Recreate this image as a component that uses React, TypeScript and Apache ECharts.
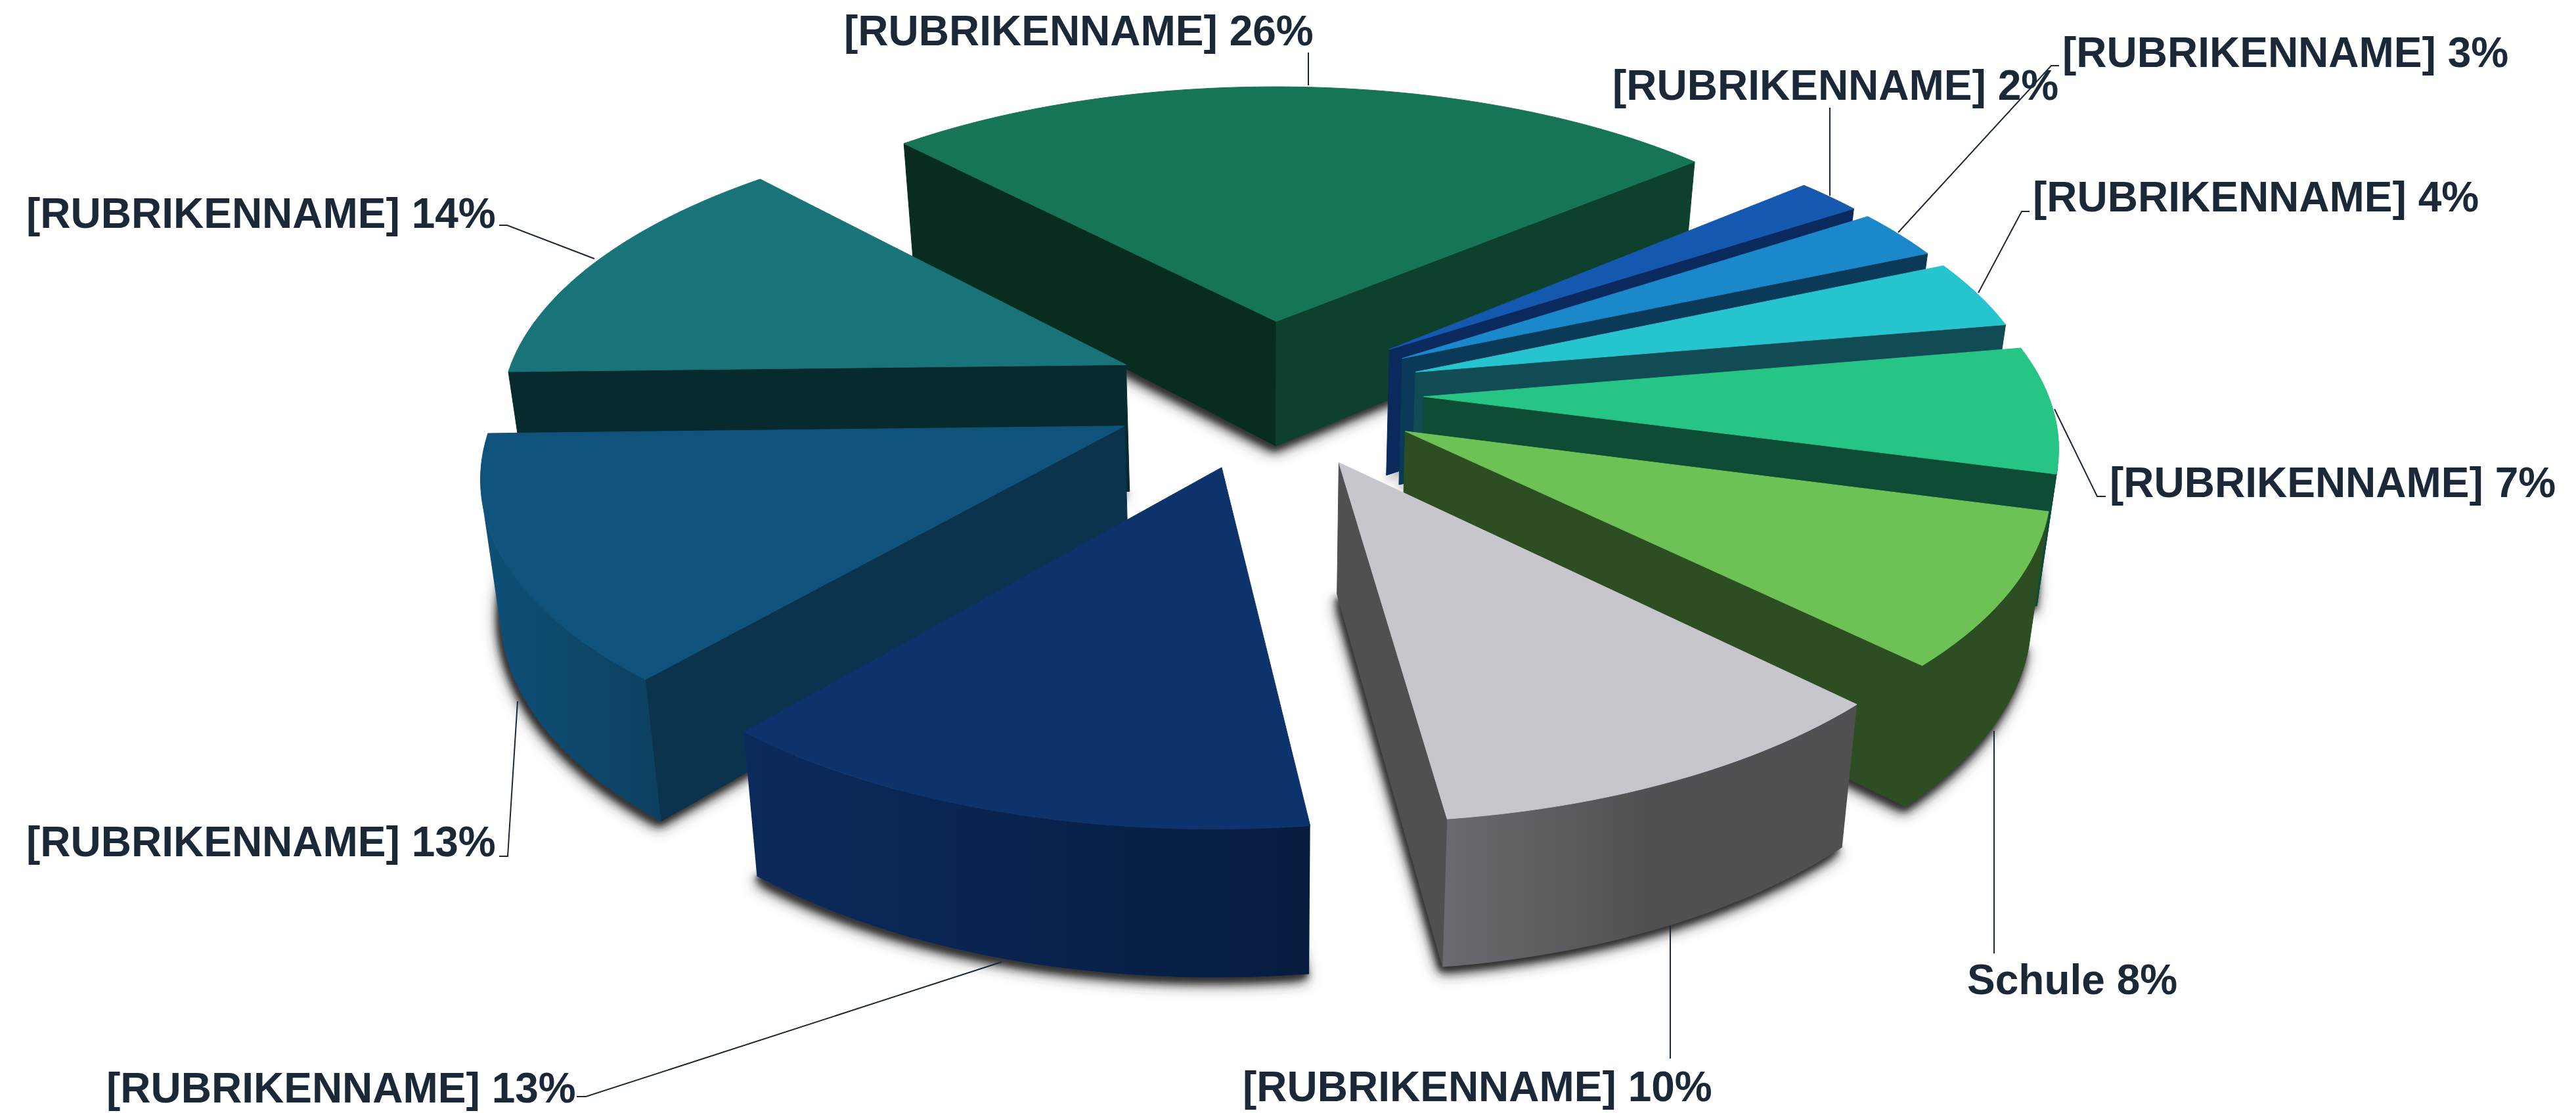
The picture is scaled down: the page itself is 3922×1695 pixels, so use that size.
import React, { useEffect, useRef } from "react";
import * as echarts from "echarts";

const categories = ["[RUBRIKENNAME]", "[RUBRIKENNAME]", "[RUBRIKENNAME]", "[RUBRIKENNAME]", "[RUBRIKENNAME]", "Schule", "[RUBRIKENNAME]", "[RUBRIKENNAME]", "[RUBRIKENNAME]", "[RUBRIKENNAME]"];
// shares as read from the slice edges; the labels show them rounded
const shares = [25.6, 2.0, 2.75, 3.78, 6.94, 8.31, 10.49, 13.25, 13.39, 13.51];

const topColors = ["#167556", "#1558B0", "#1A88CA", "#26C4CF", "#26C485", "#6DC155", "#C7C6CC", "#0C336C", "#0F537C", "#187478"];
const startWallColors = ["#082D1F", "#0A2A5E", "#0A3A58", "#114C55", "#0D4D36", "#2D4E22", "#505052", "#0A2754", "#0B334E", "#062A2E"];
const endWallColors = ["#0D412E", "#0A2A5E", "#0A3A58", "#114C55", "#0D4D36", "#2D4E22", "#505052", "#0A2754", "#0B334E", "#062A2E"];
const outerLeftColors = ["#0D412E", "#0A2A5E", "#0A3A58", "#114C55", "#0D4D36", "#2D4E22", "#6C6A70", "#0B2A5C", "#0E5077", "#0B3A3E"];
const outerRightColors = ["#0D412E", "#0A2A5E", "#0A3A58", "#114C55", "#0D4D36", "#2D4E22", "#505052", "#071C3F", "#0C4060", "#0B3A3E"];
const outerBlendEnd = [1, 1, 1, 1, 1, 1, 0.5, 1, 1, 1];

// label placement: [left x, centre y] in page pixels
const labelAnchors = [[1285, 47], [2455, 130], [3140, 80], [3095, 300], [3212, 735], [2995, 1492], [1892, 1655], [162, 1657], [40, 1282], [40, 325]];
// leader lines, label end to slice end
const leaderPaths = [
  [[1992, 80], [1992, 130]],
  [[2786, 164], [2786, 298]],
  [[3135, 100], [3123, 100], [2890, 354]],
  [[3090, 322], [3078, 322], [3012, 446]],
  [[3206, 756], [3193, 756], [3128, 623]],
  [[3036, 1452], [3036, 1113]],
  [[2543, 1612], [2543, 1410]],
  [[878, 1670], [892, 1670], [1525, 1465]],
  [[760, 1304], [773, 1304], [788, 1068]],
  [[760, 343], [772, 343], [905, 394]],
];

// projection of the tilted, exploded disc
const CX = 1930, CY = 599, H = 950, V = 437, K = 0.142, EX = 0.25, EY = 0.26, DEPTH = 195, DK = 0.11, FIRST_ANGLE = -42.8;
const rad = (d: number) => (d * Math.PI) / 180;

type P = [number, number];
const total = shares.reduce((a, b) => a + b, 0);
const slices = (() => {
  let a = FIRST_ANGLE;
  return shares.map((v, i) => {
    const a0 = a;
    const a1 = a + (v / total) * 360;
    a = a1;
    const mid = rad((a0 + a1) / 2);
    return { i, a0, a1, ox: EX * Math.sin(mid), oy: EY * Math.cos(mid), key: Math.cos(mid) };
  });
})();
const drawOrder = [...slices].sort((p, q) => q.key - p.key).map((s) => s.i);

const project = (X: number, Y: number): P => {
  const w = 1 + K * Y;
  return [CX + (H * X) / w, CY - (V * Y) / w];
};
const rim = (s: { ox: number; oy: number }, deg: number): P =>
  project(s.ox + Math.sin(rad(deg)), s.oy + Math.cos(rad(deg)));
const down = (p: P, Y: number): P => [CX + (p[0] - CX) * 0.975, p[1] + DEPTH / (1 + DK * Y)];
const area = (pts: P[]) => {
  let t = 0;
  pts.forEach((p, i) => {
    const q = pts[(i + 1) % pts.length];
    t += p[0] * q[1] - q[0] * p[1];
  });
  return t / 2;
};
const face = (points: P[], fill: any) => ({
  type: "polygon",
  silent: true,
  shape: { points },
  style: { fill, stroke: typeof fill === "string" ? fill : undefined, lineWidth: typeof fill === "string" ? 1 : 0 },
});
const contactShadow = (points: P[], blur: number, dx: number, dy: number) => ({
  type: "polygon",
  silent: true,
  shape: { points },
  style: { fill: "#444", shadowBlur: blur, shadowColor: "rgba(50,50,50,0.9)", shadowOffsetX: dx, shadowOffsetY: dy },
});

function renderSlice(params: any) {
  const idx = drawOrder[params.dataIndex];
  const s = slices[idx];
  const steps = Math.max(2, Math.ceil((s.a1 - s.a0) / 1.5));
  const angles = Array.from({ length: steps + 1 }, (_, j) => s.a0 + ((s.a1 - s.a0) * j) / steps);
  const topRim = angles.map((d) => rim(s, d));
  const botRim = angles.map((d, j) => down(topRim[j], s.oy + Math.cos(rad(d))));
  const apex = project(s.ox, s.oy);
  const apexB = down(apex, s.oy);
  const children: any[] = [];

  // contact shadow, cast by the slice's underside
  const under: P[] = [apexB, ...botRim];
  children.push(contactShadow(under, 22, -4, 10));
  children.push(contactShadow(under, 14, -3, 7));
  children.push(contactShadow(under, 8, -3, 4));

  const startWall: P[] = [apex, topRim[0], botRim[0], apexB];
  if (area(startWall) < 0) children.push(face(startWall, startWallColors[idx]));
  const last = angles.length - 1;
  const endWall: P[] = [apex, apexB, botRim[last], topRim[last]];
  if (area(endWall) < 0) children.push(face(endWall, endWallColors[idx]));

  // outer wall: contiguous forward-facing strips joined into one polygon
  let run: number[] = [];
  const flush = () => {
    if (run.length) {
      const ids = [...run, run[run.length - 1] + 1];
      const pts: P[] = [...ids.map((j) => topRim[j]), ...ids.slice().reverse().map((j) => botRim[j])];
      const c0 = outerLeftColors[idx], c1 = outerRightColors[idx];
      children.push(
        face(pts, c0 === c1 ? c0 : {
          type: "linear", x: 0, y: 0, x2: 1, y2: 0,
          colorStops: [{ offset: 0, color: c0 }, { offset: outerBlendEnd[idx], color: c1 }, { offset: 1, color: c1 }],
        })
      );
    }
    run = [];
  };
  for (let j = 0; j < last; j++) {
    if (area([topRim[j], topRim[j + 1], botRim[j + 1], botRim[j]]) < 0) run.push(j);
    else flush();
  }
  flush();

  children.push(face([apex, ...topRim], topColors[idx]));
  return { type: "group", children };
}

function renderLabel(params: any) {
  const i = params.dataIndex;
  const [x, y] = labelAnchors[i];
  return {
    type: "group",
    children: [
      {
        type: "polyline",
        silent: true,
        shape: { points: leaderPaths[i] },
        style: { fill: "none", stroke: "#1B2838", lineWidth: 2 },
      },
      {
        type: "text",
        silent: true,
        style: {
          x,
          y,
          text: `${categories[i]} ${Math.round(shares[i])}%`,
          font: 'bold 64px "Liberation Sans", Arial, sans-serif',
          fill: "#1B2838",
          align: "left",
          verticalAlign: "middle",
        },
      },
    ],
  };
}

export default function App() {
  const ref = useRef<HTMLDivElement>(null);
  useEffect(() => {
    const chart = echarts.init(ref.current!, undefined, { renderer: "svg" });
    chart.setOption({
      animation: false,
      backgroundColor: "#ffffff",
      series: [
        { type: "custom", coordinateSystem: "none", renderItem: renderSlice, data: drawOrder.map((i) => shares[i]), z: 1, silent: true },
        { type: "custom", coordinateSystem: "none", renderItem: renderLabel, data: shares, z: 2, silent: true },
      ],
    });
    return () => chart.dispose();
  }, []);
  return <div ref={ref} style={{ position: "absolute", left: 0, top: 0, width: 3922, height: 1695 }} />;
}
